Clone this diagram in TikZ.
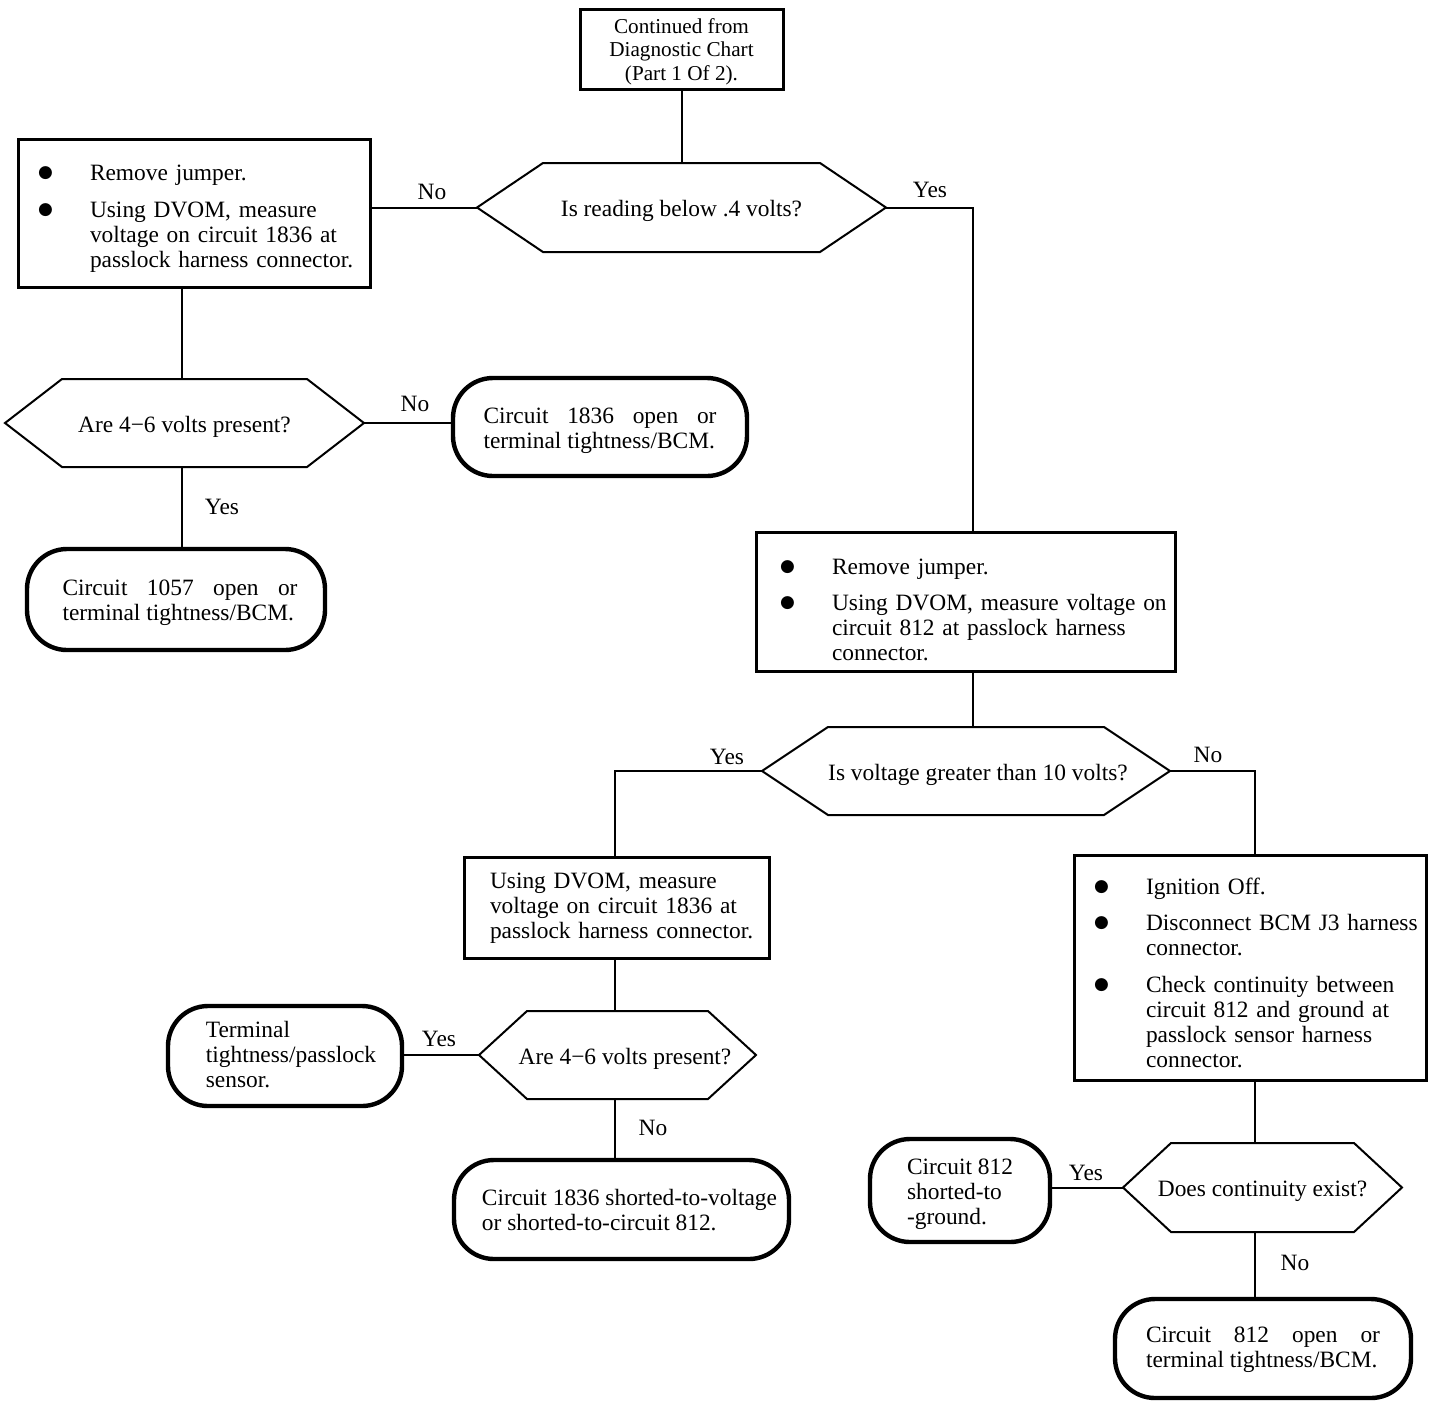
\documentclass[tikz,border=0pt]{standalone}
\usepackage{fontspec}
\setmainfont{Liberation Serif}
\newfontfamily\dejavu{DejaVu Sans}
\usetikzlibrary{calc}
\newcommand\bul{\makebox[24.5pt][l]{\hspace{-1.5pt}\raisebox{1.4pt}{\dejavu\fontsize{8.5}{8.5}\selectfont ●}}}
\newcommand\dn[2][1.75pt]{\raisebox{-#1}[\height][\depth]{#2}}
\newcommand\tl[2][1.75pt]{\dn[#1]{\begin{tabular}{@{}l@{}}#2\end{tabular}}}
\newcommand\drawhex[2]{\draw[hexline] (#1.west) -- ([xshift=#2]#1.north west) -- ([xshift=-#2]#1.north east) -- (#1.east) -- ([xshift=-#2]#1.south east) -- ([xshift=#2]#1.south west) -- cycle;}
\begin{document}
\begin{tikzpicture}[x=0.5pt,y=-0.5pt,
  every node/.style={font=\fontsize{11.7}{12.5}\selectfont},
  sq/.style={draw, line width=1.5pt, rectangle, outer sep=0pt, inner ysep=0pt},
  ov/.style={draw, line width=2.2pt, rectangle, rounded corners=20pt, outer sep=0pt, inner sep=0pt},
  hexbox/.style={rectangle, inner sep=0pt, outer sep=0pt},
  hexline/.style={line width=1pt, line join=miter},
  conn/.style={line width=1pt},
  lab/.style={inner sep=0pt}]
\useasboundingbox (0,0) rectangle (1456,1420);

% helper x positions of vertical connectors
\coordinate (xA) at (182,0);
\coordinate (xR) at (973,0);
\coordinate (xC) at (615,0);
\coordinate (xD) at (1255,0);

% top box
\node[sq, minimum width=101.5pt, minimum height=40pt,
      font=\fontsize{10.6}{11.75}\selectfont] (T) at (681.5,49)
  {\dn[1.5pt]{\begin{tabular}{@{}c@{}}Continued from\\Diagnostic Chart\\(Part 1 Of 2).\end{tabular}}};

% hexagon 1
\node[hexbox, minimum width=204.5pt, minimum height=44.5pt] (h1) at (681.5,207.5) {\dn{Is reading below .4 volts?}};
\drawhex{h1}{33pt}

% box A
\node[sq, minimum width=176pt, minimum height=74pt, text width=153pt, inner xsep=11.5pt, align=left] (A) at (194,213)
  {\dn[3pt]{\begin{tabular}{@{}l@{}l@{}}
   \bul & Remove jumper.\\[6pt]
   \bul & Using DVOM, measure\\
        & voltage on circuit 1836 at\\
        & passlock harness connector.
   \end{tabular}}};

% hexagon 2
\node[hexbox, minimum width=179.5pt, minimum height=44pt] (h2) at (184.5,423) {\dn{Are 4−6 volts present?}};
\drawhex{h2}{28.5pt}

% oval 1
\node[ov, minimum width=147pt, minimum height=49pt] (O1) at (600,427)
  {\tl[2pt]{\makebox[116.5pt][s]{Circuit 1836 open or}\\terminal tightness/BCM.}};

% oval 2
\node[ov, minimum width=149pt, minimum height=50.5pt] (O2) at (176,599.5)
  {\hspace*{4pt}\tl{\makebox[117.5pt][s]{Circuit 1057 open or}\\terminal tightness/BCM.}};

% box B
\node[sq, minimum width=209.5pt, minimum height=69.5pt, text width=182.5pt, inner xsep=13.5pt, align=left] (B) at (965.5,601.5)
  {\dn[5.5pt]{\begin{tabular}{@{}l@{}l@{}}
   \bul & Remove jumper.\\[5.75pt]
   \bul & Using DVOM, measure voltage on\\
        & circuit 812 at passlock harness\\
        & connector.
   \end{tabular}}};

% hexagon 3
\node[hexbox, minimum width=204pt, minimum height=44pt] (h3) at (966,771) {\hspace*{12pt}\dn{Is voltage greater than 10 volts?}};
\drawhex{h3}{33pt}

% box C
\node[sq, minimum width=152.5pt, minimum height=50.5pt, text width=126.5pt, inner xsep=13pt, align=left] (C) at (616.5,907.5)
  {\dn[0.5pt]{\begin{tabular}{@{}l@{}}
   \makebox[133pt][s]{Using DVOM, measure}\\
   \makebox[133pt][s]{voltage on circuit 1836 at}\\
   passlock harness connector.
   \end{tabular}}};

% hexagon 4
\node[hexbox, minimum width=138.5pt, minimum height=44pt] (h4) at (617.5,1055) {\hspace*{7.5pt}\dn{Are 4−6 volts present?}};
\drawhex{h4}{24pt}

% oval 3
\node[ov, minimum width=117pt, minimum height=50pt] (O3) at (285,1056)
  {\hspace*{6pt}\tl[0.5pt]{Terminal\\tightness/passlock\\sensor.}};

% oval 4
\node[ov, minimum width=167.5pt, minimum height=49.5pt] (O4) at (621.5,1209.5)
  {\hspace*{8pt}\tl{Circuit 1836 shorted-to-voltage\\or shorted-to-circuit 812.}};

% box D
\node[sq, minimum width=176pt, minimum height=112.5pt, text width=153pt, inner xsep=11.5pt, align=left] (D) at (1250,967.5)
  {\dn[4pt]{\begin{tabular}{@{}l@{}l@{}}
   \bul & Ignition Off.\\[5.75pt]
   \bul & Disconnect BCM J3 harness\\
        & connector.\\[5.75pt]
   \bul & Check continuity between\\
        & circuit 812 and ground at\\
        & passlock sensor harness\\
        & connector.
   \end{tabular}}};

% hexagon 5
\node[hexbox, minimum width=139.5pt, minimum height=44.5pt] (h5) at (1262.5,1187.5) {\dn{Does continuity exist?}};
\drawhex{h5}{24pt}

% oval 5
\node[ov, minimum width=90pt, minimum height=51.5pt] (O5) at (960,1190.5)
  {\tl[2pt]{Circuit 812\\shorted-to\\-ground.}};

% oval 6
\node[ov, minimum width=148pt, minimum height=49.5pt] (O6) at (1263,1348.5)
  {\tl[0.5pt]{\makebox[117pt][s]{Circuit 812 open or}\\terminal tightness/BCM.}};

% labels
\node[lab] (l1) at (432,192) {No};
\node[lab] (l2) at (930,190) {Yes};
\node[lab] (l3) at (415,404) {No};
\node[lab] (l4) at (222,507) {Yes};
\node[lab] (l5) at (727,757) {Yes};
\node[lab] (l6) at (1208,755) {No};
\node[lab] (l7) at (439,1039) {Yes};
\node[lab] (l8) at (653,1128) {No};
\node[lab] (l9) at (1086,1173) {Yes};
\node[lab] (l10) at (1295,1263) {No};

% connectors
\draw[conn] (T.south) -- (T.south |- h1.north);
\draw[conn] (h1.west) -- (h1.west -| A.east);
\draw[conn] (A.south -| xA) -- (h2.north -| xA);
\draw[conn] (h2.east) -- (h2.east -| O1.west);
\draw[conn] (h2.south -| xA) -- (O2.north -| xA);
\draw[conn] (h1.east) -| (B.north -| xR);
\draw[conn] (B.south -| xR) -- (h3.north -| xR);
\draw[conn] (h3.west) -| (C.north -| xC);
\draw[conn] (h3.east) -| (D.north -| xD);
\draw[conn] (C.south -| xC) -- (h4.north -| xC);
\draw[conn] (h4.west) -- (h4.west -| O3.east);
\draw[conn] (h4.south -| xC) -- (O4.north -| xC);
\draw[conn] (D.south -| xD) -- (h5.north -| xD);
\draw[conn] (h5.west) -- (h5.west -| O5.east);
\draw[conn] (h5.south -| xD) -- (O6.north -| xD);
\end{tikzpicture}
\end{document}
